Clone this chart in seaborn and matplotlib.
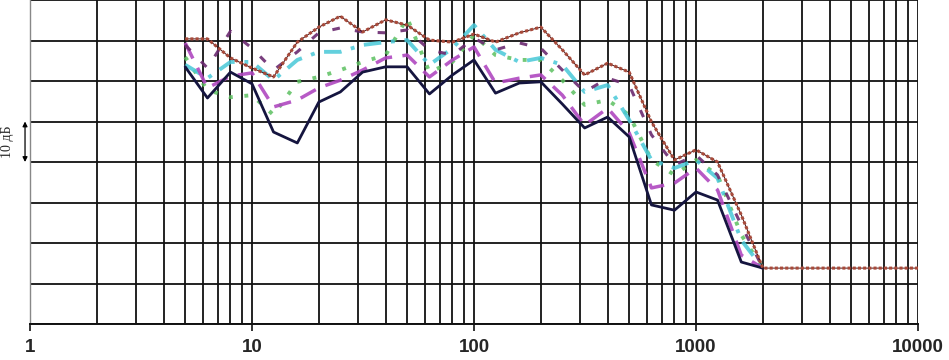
import numpy as np
import pandas as pd
import matplotlib
matplotlib.use("Agg")
import matplotlib.pyplot as plt
import matplotlib.ticker as mticker
import matplotlib.transforms as mtransforms
import seaborn as sns

freqs = [5, 6.3, 8, 10, 12.5, 16, 20, 25, 31.5, 40, 50, 63, 80, 100, 125, 160,
         200, 250, 315, 400, 500, 630, 800, 1000, 1250, 1600, 2000]

brown_freqs = freqs + [10000]
brown = [70.4, 70.4, 65.7, 63.2, 61.0, 69.6, 73.3, 76.0, 72.1, 75.1, 73.8, 70.1, 69.6, 71.6,
         69.6, 71.9, 73.3, 67.7, 61.5, 64.4, 62.2, 49.9, 40.5, 43.0, 40.0, 26.9, 13.8, 13.8]
navy = [63.5, 55.8, 62.2, 59.3, 47.4, 44.7, 54.8, 57.3, 62.2, 63.5, 63.5, 56.8, 61.5, 65.2,
        57.0, 59.5, 59.8, 54.3, 48.4, 51.1, 46.2, 29.4, 28.1, 32.6, 30.6, 15.3, 13.8]
dark_purple = [68.9, 63.2, 72.3, 68.1, 62.7, 67.2, 71.9, 73.1, 72.1, 71.9, 72.6, 67.7, 66.4, 70.6,
               67.7, 69.4, 68.1, 62.7, 57.3, 60.7, 59.0, 46.7, 39.3, 41.7, 36.8, 24.4, 13.8]
magenta = [69.4, 58.3, 61.2, 62.0, 53.6, 55.3, 58.3, 60.2, 62.7, 65.7, 66.4, 61.0, 65.2, 68.4,
           59.5, 60.7, 61.5, 56.5, 49.1, 53.3, 47.2, 33.6, 34.8, 38.5, 33.1, 17.0, 13.8]
cyan = [64.0, 60.7, 64.7, 64.7, 60.2, 65.2, 67.2, 67.2, 68.9, 69.6, 70.1, 64.0, 68.1, 73.8,
        67.7, 64.7, 65.7, 64.0, 57.3, 59.0, 50.4, 40.5, 38.5, 40.5, 36.0, 20.7, 13.8]
green = [65.9, 57.8, 56.0, 56.5, 51.6, 59.8, 61.0, 62.7, 64.7, 66.4, 75.6, 62.2, 64.7, 71.4,
         66.4, 65.2, 65.2, 60.2, 54.1, 55.3, 51.6, 40.5, 36.8, 40.5, 36.8, 22.0, 13.8]

xtick_vals = [1, 10, 100, 1000, 10000]
xtick_labels = ["1", "10", "100", "1000", "10000"]

sns.set_theme(style="white")
plt.rcParams['font.family'] = ['Liberation Sans', 'DejaVu Sans']

fig = plt.figure(figsize=(9.49, 3.60), dpi=100)
ax = fig.add_axes([30 / 949, 36 / 360, 888 / 949, 324 / 360])

series = [
    ("green", green, freqs, dict(color="#5cc060", lw=2.8, ls=(0, (1.0, 3.0)), alpha=0.85)),
    ("cyan", cyan, freqs, dict(color="#48c8d8", lw=2.8, ls=(0, (4.5, 2.5, 1.0, 2.5)), alpha=0.85)),
    ("magenta", magenta, freqs, dict(color="#b048c0", lw=2.5, ls=(0, (5, 3)), alpha=0.9)),
    ("dark_purple", dark_purple, freqs, dict(color="#6b2a70", lw=2.2, ls=(0, (2.5, 5)), alpha=0.9)),
    ("navy", navy, freqs, dict(color="#15153f", lw=2.0, ls="-")),
]
for name, vals, fx, st in series:
    df = pd.DataFrame({"f": fx, "level": vals})
    sns.lineplot(data=df, x="f", y="level", ax=ax, color=st["color"], linewidth=st["lw"],
                 linestyle=st["ls"], alpha=st.get("alpha", 1.0), legend=False, zorder=3)

dfb = pd.DataFrame({"f": brown_freqs, "level": brown})
sns.lineplot(data=dfb, x="f", y="level", ax=ax, color="#4a1010", linewidth=0.7, legend=False, zorder=4)
sns.lineplot(data=dfb, x="f", y="level", ax=ax, color="#a84a3a", linewidth=2.2,
             linestyle=(0, (1.0, 0.7)), legend=False, zorder=4)

ax.set_xscale("log")
ax.set_xlim(1, 10000)
ax.set_ylim(0, 80)
ax.set_xlabel("")
ax.set_ylabel("")

ax.xaxis.set_major_locator(mticker.FixedLocator(xtick_vals))
ax.xaxis.set_major_formatter(mticker.FixedFormatter(xtick_labels))
ax.xaxis.set_minor_locator(mticker.LogLocator(base=10, subs=np.arange(2, 10)))
ax.xaxis.set_minor_formatter(mticker.NullFormatter())
ax.yaxis.set_major_locator(mticker.MultipleLocator(10))
ax.set_yticklabels([])

ax.grid(True, which="major", axis="both", color="#111111", linewidth=1.3)
ax.grid(True, which="minor", axis="x", color="#111111", linewidth=1.3)
ax.tick_params(axis="x", which="major", bottom=True, length=5, width=1.2, color="#111111",
               pad=6, labelsize=13.5)
ax.tick_params(axis="x", which="minor", bottom=False, length=0)
ax.tick_params(axis="y", which="both", left=False, length=0)
for lab in ax.get_xticklabels():
    lab.set_fontweight("bold")

for s in ["top", "right"]:
    ax.spines[s].set_visible(False)
ax.spines["bottom"].set_color("#111111")
ax.spines["bottom"].set_linewidth(1.4)
ax.spines["left"].set_color("#888888")
ax.spines["left"].set_linewidth(1.0)

trans = mtransforms.blended_transform_factory(ax.transAxes, ax.transData)
ax.annotate("", xy=(-0.0056, 50), xytext=(-0.0056, 40), xycoords=trans, textcoords=trans,
            arrowprops=dict(arrowstyle="<|-|>", color="black", lw=0.9, mutation_scale=7,
                            shrinkA=0, shrinkB=0), annotation_clip=False)
ax.text(-0.025, 45, "10 дБ", transform=trans, rotation=90, ha="center", va="center",
        fontsize=10, family=["Liberation Serif", "DejaVu Serif"], clip_on=False)

fig.savefig("out.png", dpi=100)
